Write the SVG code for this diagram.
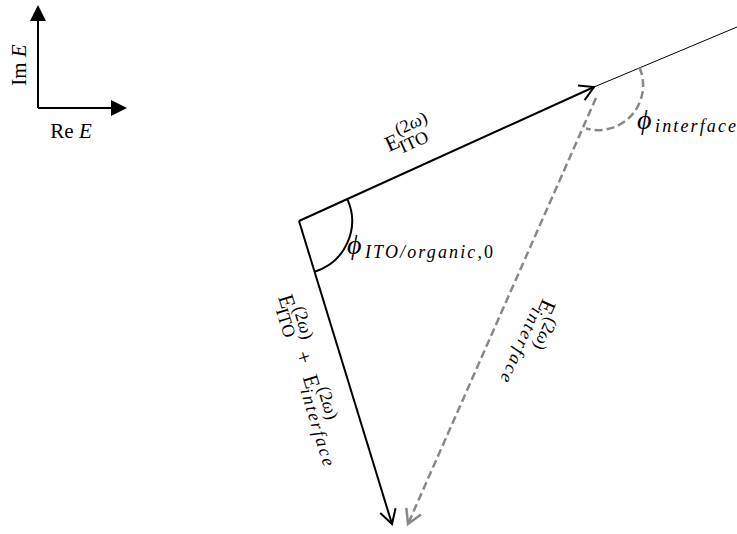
<svg xmlns="http://www.w3.org/2000/svg" width="737" height="534" viewBox="0 0 737 534">
<style>
text{font-family:"Liberation Serif","DejaVu Serif",serif;fill:#000}
.it{font-style:italic}
.big{font-size:22px}
.sm{font-size:18px}
.phi{font-size:28px;font-style:italic}
.ln{fill:none;stroke:#000;stroke-width:2}
.gr{fill:none;stroke:#888;stroke-width:2.5;stroke-dasharray:8 4}
</style>
<defs>
<marker id="ab" markerUnits="userSpaceOnUse" markerWidth="20" markerHeight="20" refX="14" refY="8" orient="auto" overflow="visible">
<path d="M0,0 L14,8 L0,16" fill="none" stroke="#000" stroke-width="2"/>
</marker>
<marker id="ag" markerUnits="userSpaceOnUse" markerWidth="20" markerHeight="20" refX="14" refY="8" orient="auto" overflow="visible">
<path d="M0,0 L14,8 L0,16" fill="none" stroke="#888" stroke-width="2.5"/>
</marker>
</defs>

<g id="axes">
<path class="ln" d="M38,108 V20 M38,108 H112"/>
<polygon points="38,5 30,21 46,21" fill="#000"/>
<polygon points="127,108 111,100 111,116" fill="#000"/>
<text font-size="21" text-anchor="middle" transform="translate(26,65) rotate(-90)">Im <tspan class="it">E</tspan></text>
<text x="71" y="138" font-size="21" text-anchor="middle">Re <tspan class="it">E</tspan></text>
</g>

<g id="connectors">
<line class="ln" x1="299" y1="221" x2="594" y2="87" marker-end="url(#ab)"/>
<line x1="594" y1="87" x2="737" y2="27" stroke="#000" stroke-width="1"/>
<line class="ln" x1="299" y1="221" x2="392" y2="524" marker-end="url(#ab)"/>
<line class="gr" x1="596" y1="98" x2="408" y2="524" marker-end="url(#ag)"/>
</g>

<g id="angle-ito">
<path class="ln" d="M347.3,199.1 A53,53 0 0 1 314.5,271.7"/>
<text x="347" y="254" class="phi">ϕ</text>
<text x="365" y="258" class="sm it" textLength="128" lengthAdjust="spacing">ITO/organic,<tspan font-style="normal">0</tspan></text>
</g>

<g id="angle-interface">
<path class="gr" d="M639.5,67.5 A45,45 0 0 1 586,128.5"/>
<text x="637" y="129" class="phi">ϕ</text>
<text x="655" y="132" font-size="18" class="it" textLength="81" lengthAdjust="spacing">interface</text>
</g>

<g id="label-ito" transform="translate(389,152) rotate(-24.6)">
<text class="big" x="0" y="0">E</text>
<text class="sm" x="15" y="-11">(2<tspan class="it">ω</tspan>)</text>
<text class="sm" x="12" y="7">ITO</text>
</g>

<g id="label-sum" transform="translate(278,297) rotate(73)">
<text class="big" x="0" y="0">E</text>
<text class="sm" x="15" y="-11">(2<tspan class="it">ω</tspan>)</text>
<text class="sm" x="12" y="6">ITO</text>
<text class="big" x="59" y="0">+</text>
<text class="big" x="84" y="0">E</text>
<text class="sm" x="99" y="-11">(2<tspan class="it">ω</tspan>)</text>
<text class="sm it" x="96" y="6" textLength="80" lengthAdjust="spacing">interface</text>
</g>

<g id="label-interface" transform="translate(543,298) rotate(114)">
<text class="big" x="0" y="0">E</text>
<text class="sm" x="15" y="-11">(2<tspan class="it">ω</tspan>)</text>
<text class="sm it" x="12" y="6" textLength="80" lengthAdjust="spacing">interface</text>
</g>
</svg>
